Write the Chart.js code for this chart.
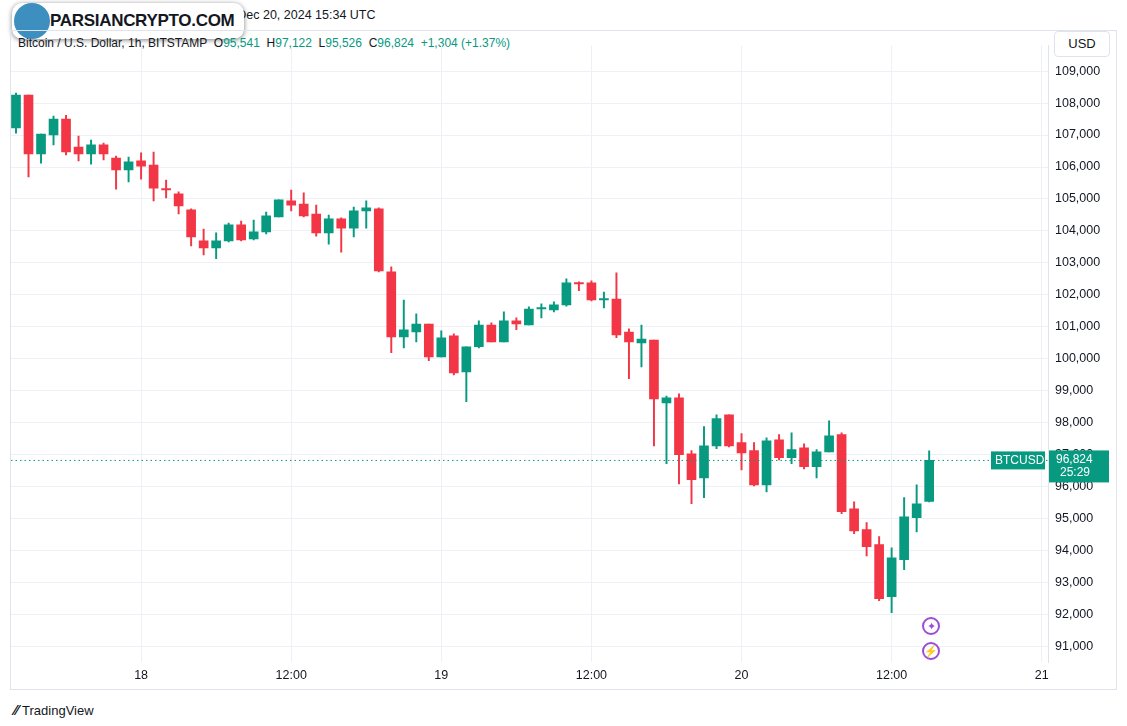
<!DOCTYPE html>
<html>
<head>
<meta charset="utf-8">
<script src="https://cdn.jsdelivr.net/npm/chart.js@4"></script>
<style>
body{margin:0;background:#fff;font-family:"Liberation Sans",Arial,sans-serif;width:1127px;height:726px;overflow:hidden;position:relative;color:#131722}
#wrap{position:absolute;left:10px;top:30px;width:1107px;height:660px;border:1px solid #e0e3eb;box-sizing:border-box}
.t{position:absolute;font-size:12.5px;white-space:nowrap}
.g{color:#089981}
#usd{position:absolute;left:1054px;top:31px;width:56px;height:26px;border:1px solid #e0e3eb;border-radius:4px;box-sizing:border-box;font-size:13px;text-align:center;line-height:24px;background:#fff}
#logo{position:absolute;left:12px;top:3px;height:36px;padding:0 10px 0 38px;border-radius:10px;background:#fff;box-shadow:0 1px 5px rgba(0,0,0,.5);font-weight:bold;font-size:17px;line-height:36px;letter-spacing:-0.3px}
#logo:before{content:"";position:absolute;left:2px;top:0;width:36px;height:36px;border-radius:50%;background:#3d8fbf}
.ic{position:absolute;width:18px;height:18px;border:2px solid #9c4dd6;border-radius:50%;box-sizing:border-box;color:#9c4dd6;font-size:11px;text-align:center;line-height:14px}
</style>
</head>
<body>
<div class="t" style="left:20px;top:8px;color:#131722">Bitcoin published on TradingView.com, Dec 20, 2024 15:34 UTC</div>
<div id="logo">PARSIANCRYPTO.COM</div>
<div class="t" style="left:18px;top:36px;font-size:12px">Bitcoin / U.S. Dollar, 1h, BITSTAMP&nbsp; O<span class="g">95,541</span>&nbsp; H<span class="g">97,122</span>&nbsp; L<span class="g">95,526</span>&nbsp; C<span class="g">96,824</span>&nbsp; <span class="g">+1,304 (+1.37%)</span></div>
<div id="wrap"><canvas id="c"></canvas></div>
<div id="usd">USD</div>
<div class="ic" style="left:922px;top:617px">✦</div>
<div class="ic" style="left:922px;top:642px">⚡</div>
<div class="t" style="left:14px;top:702px;font-size:13px"><b style="font-size:14px">⁄⁄</b> TradingView</div>
<script>
// hourly candles, 17 Dec 14:00 -> 20 Dec 15:00 (UTC)
const opens  = [107220,108250,106410,107000,107500,106620,106410,106690,106280,105910,106190,106060,105310,105160,104660,103690,103470,103690,104190,103750,103970,104440,104940,104840,104530,103940,104380,104090,104630,104690,102720,100690,100840,101090,100060,100720,99590,100380,101060,100530,101190,101060,101560,101530,101690,102380,102380,101840,101870,100840,100500,100590,98620,98780,97030,96280,97280,98250,97380,97130,96060,97470,96910,97220,96630,97090,97630,95310,94660,94190,92560,93720,95030,95541];
const highs  = [108310,108250,107030,107590,107620,106970,106840,106750,106340,106310,106440,106470,105590,105220,104690,104060,103940,104250,104310,104340,104590,104970,105280,105190,104810,104500,104410,104750,104940,104720,102880,101840,101410,101090,100880,100780,100380,101190,101130,101470,101280,101630,101720,101780,102500,102410,102440,102090,102690,100940,101060,100590,98840,98910,97130,97880,98250,98250,97660,97380,97530,97630,97690,97340,97160,98060,97690,95530,94880,94440,94090,95660,96060,97122];
const lows   = [107060,105690,106120,106690,106380,106190,106090,106220,105310,105530,105620,104940,105030,104530,103530,103250,103130,103660,103690,103720,103910,104440,104630,104440,103840,103590,103340,103810,104090,102720,100190,100340,100530,99940,100060,99500,98660,100340,100530,100530,100910,101060,101280,101470,101650,102130,101810,101590,100660,99380,99750,97280,96720,96090,95470,95660,97190,97250,96530,96030,95840,96840,96720,96560,96280,97090,95160,94530,93840,92440,92060,93410,94590,95526];
const closes = [108250,106410,107030,107500,106470,106410,106690,106410,105910,106160,106030,105340,105280,104780,103810,103470,103690,104190,103720,103970,104470,104970,104810,104470,103940,104380,104090,104630,104720,102750,100690,100910,101090,100060,100660,99560,100380,101060,100530,101190,101090,101560,101580,101690,102380,102340,101840,101870,100750,100530,100620,98750,98780,97000,96220,97280,98130,97280,97060,96060,97440,96910,97160,96630,97090,97590,95220,94620,94130,92500,93780,95060,95470,96824];
const tickIdx = [10,22,34,46,58,70,82];
const tickText = ['18','12:00','19','12:00','20','12:00','21'];
const lastPrice = 96824;

const UP = '#089981', DOWN = '#f23645';
const cols = opens.map((o,i) => closes[i] >= o ? UP : DOWN);
const bodies = opens.map((o,i) => ({x:i, y:[o, closes[i]]}));
const wicks = opens.map((o,i) => ({x:i, y:[lows[i], highs[i]]}));

const priceLine = {
  id:'priceLine',
  afterDatasetsDraw(chart){
    const {ctx, chartArea:a, scales:{y}} = chart;
    const py = y.getPixelForValue(lastPrice);
    ctx.save();
    ctx.strokeStyle = UP; ctx.lineWidth = 1; ctx.setLineDash([1.5,3]);
    ctx.beginPath(); ctx.moveTo(a.left, py); ctx.lineTo(a.right, py); ctx.stroke();
    ctx.setLineDash([]);
    ctx.fillStyle = UP;
    ctx.fillRect(a.right - 57, py - 9, 54, 18);
    ctx.fillRect(a.right + 1, py - 10, 60, 32);
    ctx.fillStyle = '#fff'; ctx.font = '12px "Liberation Sans"'; ctx.textBaseline = 'middle';
    ctx.fillText('BTCUSD', a.right - 53, py);
    ctx.fillText('96,824', a.right + 8, py - 1);
    ctx.fillText('25:29', a.right + 12, py + 12);
    ctx.restore();
  }
};

new Chart(document.getElementById('c'), {
  type:'bar',
  data:{datasets:[
    {data:wicks, backgroundColor:cols, barThickness:1.3, grouped:false, order:2},
    {data:bodies, backgroundColor:cols, barThickness:9, minBarLength:1.5, grouped:false, order:1}
  ]},
  options:{
    responsive:true, maintainAspectRatio:false, animation:false,
    plugins:{legend:{display:false}, tooltip:{enabled:false}},
    scales:{
      x:{type:'linear', min:-0.4, max:82.5, offset:false,
        grid:{color:'#eef0f5', drawTicks:false, offset:false},
        border:{display:false},
        afterBuildTicks:s => { s.ticks = tickIdx.map(v => ({value:v})); },
        ticks:{color:'#131722', font:{size:12.5, family:'Liberation Sans'}, padding:6, maxRotation:0,
          callback:v => tickText[tickIdx.indexOf(v)]}},
      y:{position:'right', min:90520, max:109800,
        grid:{color:'#eef0f5', drawTicks:false},
        border:{color:'#e0e3eb'},
        afterBuildTicks:s => { const t=[]; for(let v=91000; v<=109000; v+=1000) t.push({value:v}); s.ticks=t; },
        afterFit:s => { s.width = 68; },
        ticks:{color:'#131722', font:{size:12.5, family:'Liberation Sans'}, padding:7,
          callback:v => v.toLocaleString('en-US')}}
    }
  },
  plugins:[priceLine]
});
</script>
</body>
</html>
